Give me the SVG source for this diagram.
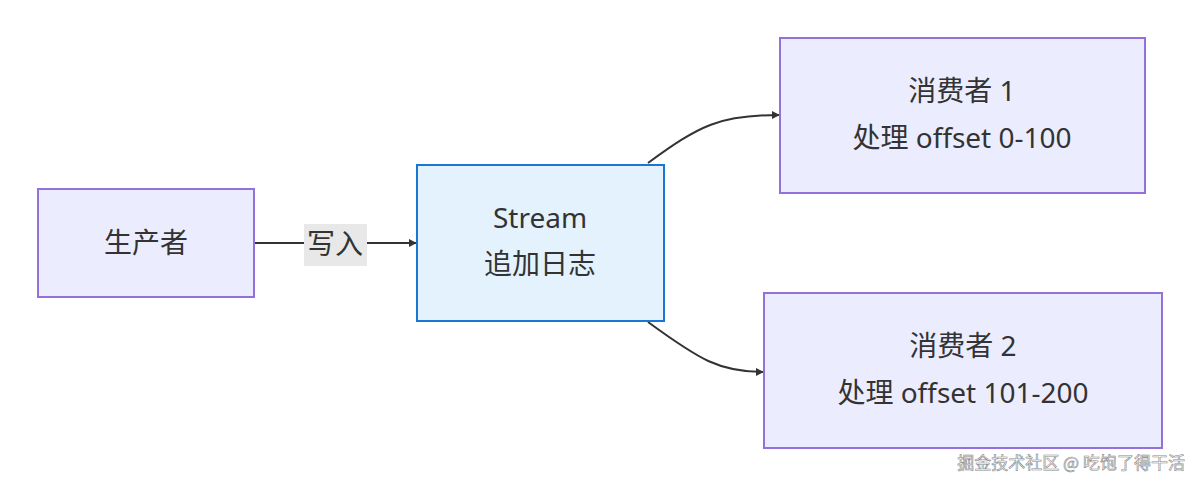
<svg xmlns="http://www.w3.org/2000/svg" width="1200" height="486" viewBox="0 0 1200 486">
<style>
.n{fill:#ECECFF;stroke:#9370DB;stroke-width:2}
.s{fill:#E3F2FD;stroke:#1976D2;stroke-width:2}
.t{font-family:"Noto Sans","Noto Sans CJK SC",sans-serif;font-size:28px;fill:#333;text-anchor:middle}
.e{fill:none;stroke:#333;stroke-width:2}
</style>
<defs><marker id="a" viewBox="0 0 10 10" refX="9" refY="5" markerWidth="8" markerHeight="8" orient="auto" markerUnits="userSpaceOnUse" ><path d="M0,0L10,5L0,10z" fill="#333"/></marker></defs>
<rect width="1200" height="486" fill="#fff"/>
<g id="edges">
<path class="e" d="M254,243H304M367,243H416" marker-end="url(#a)"/>
<path class="e" d="M648,163C700,125 720,115 779,115" marker-end="url(#a)"/>
<path class="e" d="M648,322C700,360 720,372 763,372" marker-end="url(#a)"/>
<rect x="304" y="224" width="63" height="42" fill="#E8E8E8"/>
<text class="t" x="335" y="254" font-size="26">写入</text>
</g>
<g id="producer"><rect class="n" x="38" y="189" width="216" height="108"/><text class="t" x="146" y="253">生产者</text></g>
<g id="stream"><rect class="s" x="417" y="165" width="247" height="156"/><text class="t" x="540" y="228">Stream</text><text class="t" x="540" y="274">追加日志</text></g>
<g id="c1"><rect class="n" x="780" y="38" width="365" height="155"/><text class="t" x="962" y="101">消费者 1</text><text class="t" x="962" y="148">处理 offset 0-100</text></g>
<g id="c2"><rect class="n" x="764" y="293" width="398" height="155"/><text class="t" x="963" y="356">消费者 2</text><text class="t" x="963" y="403">处理 offset 101-200</text></g>
<text x="1185" y="469" font-family="Noto Sans CJK SC,sans-serif" font-size="17" fill="#fff" stroke="#888" stroke-width="0.6" text-anchor="end">掘金技术社区 @ 吃饱了得干活</text>
</svg>
